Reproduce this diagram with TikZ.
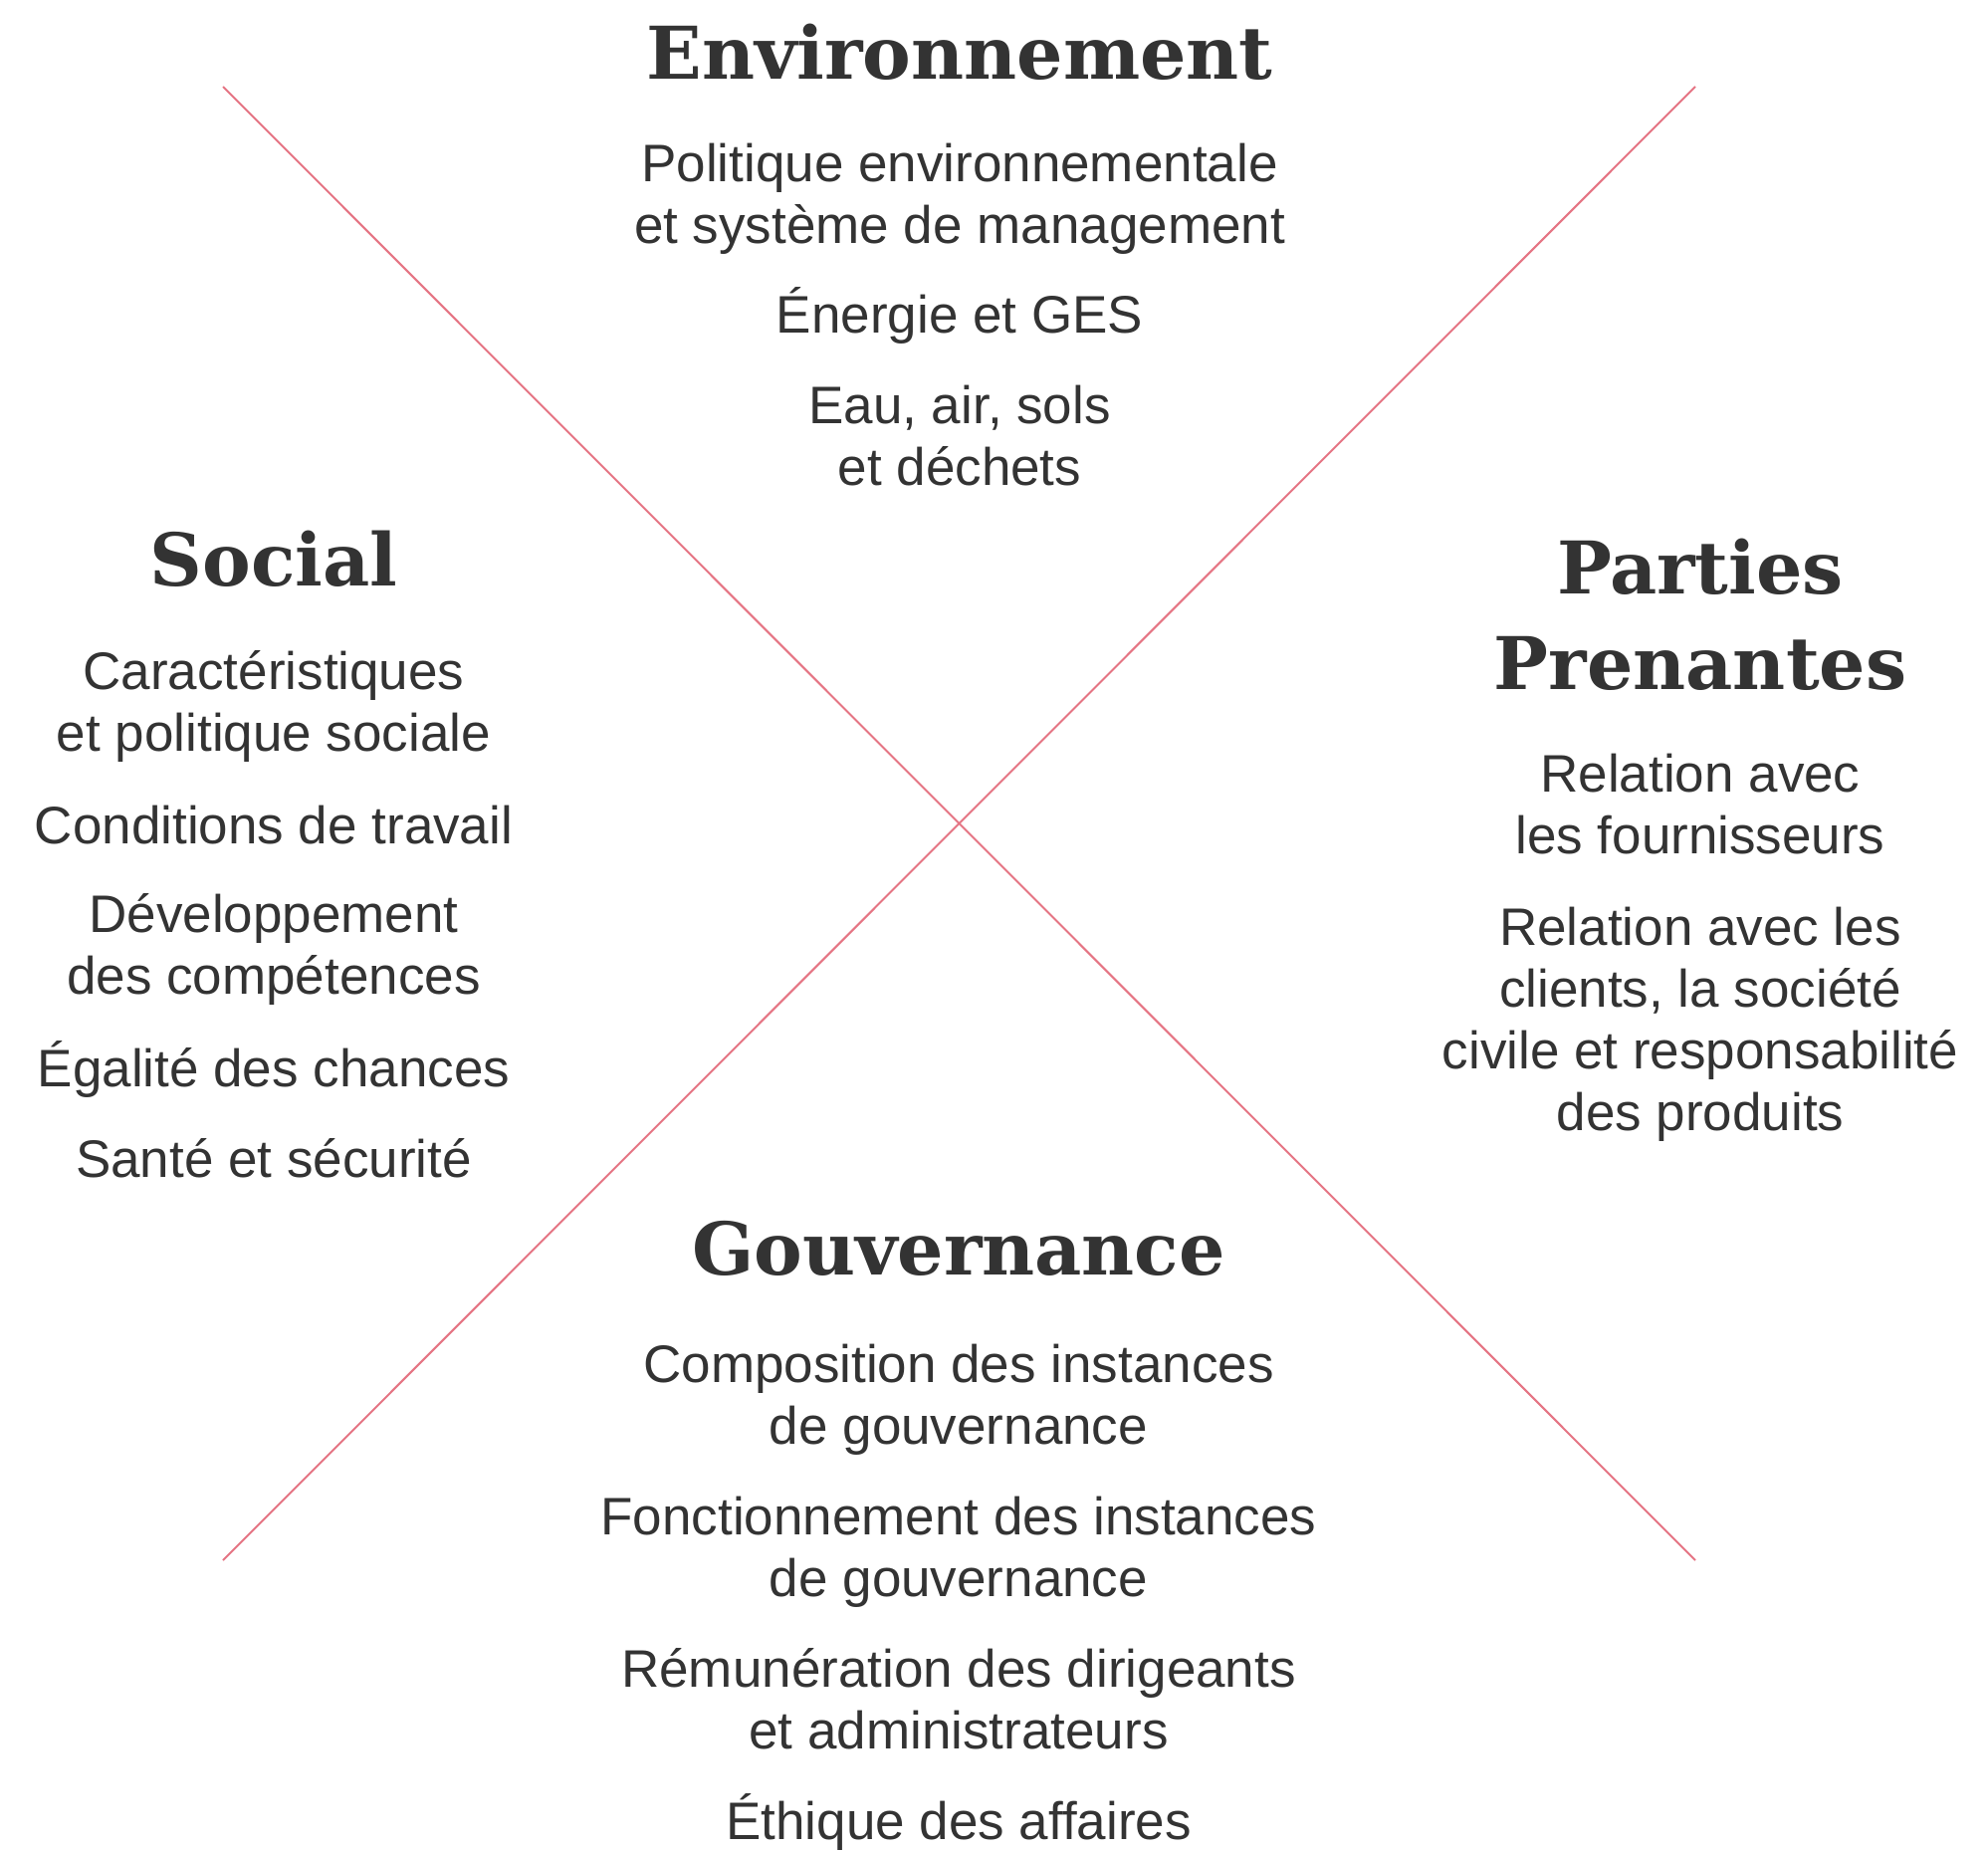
\documentclass[tikz,border=0pt]{standalone}
\usepackage{fontspec}
\setmainfont{Liberation Sans}
\newfontfamily\headfont{DejaVu Serif}
\usetikzlibrary{positioning}
\definecolor{ink}{HTML}{333333}
\definecolor{crossRed}{HTML}{E57584}
% centred stack of lines whose baseline is the first line
\newcommand{\lines}[1]{\begin{tabular}[t]{@{}c@{}}#1\end{tabular}}

\begin{document}
\begin{tikzpicture}[x=0.5pt,y=-0.5pt,
  head/.style={anchor=base,inner sep=0pt,text=ink,
    font=\headfont\bfseries\fontsize{36.5}{48}\selectfont},
  item/.style={anchor=base,inner sep=0pt,text=ink,
    font=\fontsize{26.5}{31}\selectfont}]
  \useasboundingbox (0,0) rectangle (1997,1859);
  % the two diagonals
  \coordinate (nw) at (224,87);
  \coordinate (ne) at (1703,87);
  \coordinate (sw) at (224,1567);
  \coordinate (se) at (1703,1567);
  \draw[crossRed,line width=1pt] (nw) -- (se);
  \draw[crossRed,line width=1pt] (ne) -- (sw);

  % top
  \node[head] (env) at (964,79) {Environnement};
  \node[item] (envA) at (964,182) {\lines{Politique environnementale\\et système de management}};
  \node[item] (envB) at (964,334) {Énergie et GES};
  \node[item] (envC) at (964,425) {\lines{Eau, air, sols\\et déchets}};

  % left
  \node[head] (soc) at (275,588) {Social};
  \node[item] (socA) at (275,692) {\lines{Caractéristiques\\et politique sociale}};
  \node[item] (socB) at (275,847) {Conditions de travail};
  \node[item] (socC) at (275,936) {\lines{Développement\\des compétences}};
  \node[item] (socD) at (275,1091) {Égalité des chances};
  \node[item] (socE) at (275,1182) {Santé et sécurité};

  % right
  \node[head] (pp) at (1708,596) {\lines{Parties\\Prenantes}};
  \node[item] (ppA) at (1708,795) {\lines{Relation avec\\les fournisseurs}};
  \node[item] (ppB) at (1708,949) {\lines{Relation avec les\\clients, la société\\civile et responsabilité\\des produits}};

  % bottom
  \node[head] (gov) at (963,1280) {Gouvernance};
  \node[item] (govA) at (963,1388) {\lines{Composition des instances\\de gouvernance}};
  \node[item] (govB) at (963,1541) {\lines{Fonctionnement des instances\\de gouvernance}};
  \node[item] (govC) at (963,1694) {\lines{Rémunération des dirigeants\\et administrateurs}};
  \node[item] (govD) at (963,1847) {Éthique des affaires};
\end{tikzpicture}
\end{document}
